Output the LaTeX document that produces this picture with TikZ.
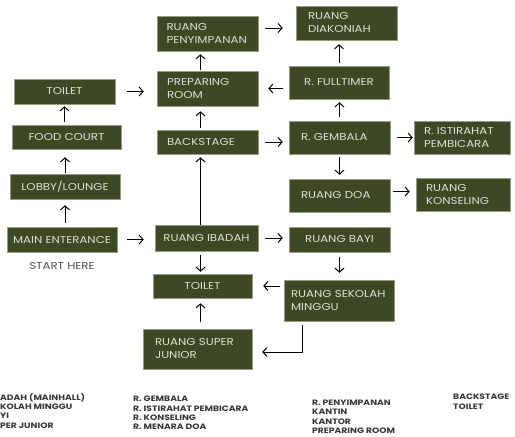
\documentclass[tikz,border=0pt]{standalone}
\usepackage{fontspec}
\setmainfont{Poppins}[FakeStretch=1.18]
\usepackage{xcolor}
\usepackage{tikz}
\usetikzlibrary{arrows.meta,positioning}
\tikzset{>={Straight Barb[length=4pt,width=9pt]}}
\definecolor{roomgreen}{RGB}{61,72,36}
\definecolor{roomedge}{RGB}{150,156,130}
\definecolor{roomtext}{RGB}{222,224,214}
\definecolor{keygray}{RGB}{55,55,60}
\definecolor{startgray}{RGB}{80,80,80}

\begin{document}
\begin{tikzpicture}[x=1pt, y=-1pt,
roomnode/.style={rectangle, draw=roomedge, line width=0.5pt, fill=roomgreen, text=roomtext, font=\fontsize{10}{13}\selectfont, inner sep=0pt, minimum height=25pt},
leftnode/.style={roomnode, align=left, inner xsep=12pt},
flow/.style={->, line width=1pt},
keynode/.style={align=left, anchor=north west, inner sep=0pt, text=keygray, font=\fontsize{7.8}{9.3}\selectfont\bfseries},
]
\useasboundingbox (0,0) rectangle (515,437);
\coordinate (spine) at (200.5,0);

%Nodes
\node[roomnode, minimum width=101pt] (toiletA) at (64.5,91.5) {TOILET};
\node[roomnode, minimum width=109pt, minimum height=24pt] (food) at (66.5,137) {FOOD COURT};
\node[roomnode, minimum width=110pt] (lobby) at (65,186.5) {LOBBY/LOUNGE};
\node[roomnode, minimum width=110pt] (main) at (62,239.5) {MAIN ENTERANCE};
\node[text=startgray, font=\fontsize{10}{12}\selectfont, below=7pt of main] (start) {START HERE};

\node[leftnode, inner xsep=9.5pt, text width=82pt, minimum height=35pt] (penyimpanan) at (207.5,33.5) {RUANG\\PENYIMPANAN};
\node[leftnode, inner xsep=10pt, text width=81pt, minimum height=35pt] (preparing) at (207.5,88.5) {PREPARING\\ROOM};
\node[leftnode, inner xsep=10pt, text width=81pt, minimum height=24pt] (backstage) at (207.5,142) {BACKSTAGE};
\node[roomnode, minimum width=103pt, minimum height=26pt] (ibadah) at (206.5,238) {RUANG IBADAH};
\node[roomnode, minimum width=99pt, minimum height=24pt] (toiletB) at (202.5,286) {TOILET};
\node[leftnode, text width=85pt, minimum height=40pt] (superjunior) at (197.5,349) {RUANG SUPER\\JUNIOR};

\node[leftnode, text width=77pt, minimum height=34pt] (diakoniah) at (346.5,23) {RUANG\\DIAKONIAH};
\node[roomnode, minimum width=100pt, minimum height=33pt] (fulltimer) at (339,82.5) {R. FULLTIMER};
\node[leftnode, text width=77pt, minimum height=33pt] (gembala) at (339.5,137.5) {R. GEMBALA};
\node[leftnode, inner xsep=10pt, text width=76pt, minimum height=33pt] (istirahat) at (462,137.5) {R. ISTIRAHAT\\PEMBICARA};
\node[leftnode, text width=77pt, minimum height=33pt] (doa) at (339.5,195.5) {RUANG DOA};
\node[leftnode, inner xsep=10pt, text width=74pt, minimum height=33pt] (konseling) at (463,194.5) {RUANG\\KONSELING};
\node[roomnode, minimum width=101pt] (bayi) at (339.5,239.5) {RUANG BAYI};
\node[leftnode, inner xsep=7pt, text width=96pt, minimum height=41pt] (sekolah) at (339,300.5) {RUANG SEKOLAH\\MINGGU};

%Key
\node[keynode] (keyA) at (0,393) {ADAH (MAINHALL)\\KOLAH MINGGU\\YI\\PER JUNIOR};
\node[keynode] (keyB) at (133,396) {R. GEMBALA\\R. ISTIRAHAT PEMBICARA\\R. KONSELING\\R. MENARA DOA};
\node[keynode] (keyC) at (312,400) {R. PENYIMPANAN\\KANTIN\\KANTOR\\PREPARING ROOM};
\node[keynode] (keyD) at (453,394) {BACKSTAGE\\TOILET};

%Arrows
\draw[flow, shorten <=4pt, shorten >=6pt] (lobby |- main.north) -- (lobby.south);
\draw[flow, shorten <=1pt, shorten >=8pt] (lobby.north) -- (lobby.north |- food.south);
\draw[flow, shorten <=3pt, shorten >=2pt] (toiletA |- food.north) -- (toiletA.south);
\draw[flow, shorten <=12pt, shorten >=13pt] (toiletA.east) -- (toiletA.east -| preparing.west);
\draw[flow, shorten <=10pt, shorten >=11pt] (main.east) -- (main.east -| ibadah.west);

\draw[flow, shorten >=3pt] (spine |- ibadah.north) -- (spine |- backstage.south);
\draw[flow, shorten <=2pt, shorten >=5pt] (spine |- backstage.north) -- (spine |- preparing.south);
\draw[flow, shorten <=1pt, shorten >=3pt] (spine |- preparing.north) -- (spine |- penyimpanan.south);
\draw[flow, shorten <=4pt, shorten >=2pt] (spine |- ibadah.south) -- (spine |- toiletB.north);
\draw[flow, shorten <=7pt, shorten >=5pt] (spine |- superjunior.north) -- (spine |- toiletB.south);

\draw[flow, shorten <=7pt, shorten >=13pt] ([yshift=5.5pt]penyimpanan.east) -- ([yshift=5.5pt]penyimpanan.east -| diakoniah.west);
\draw[flow, shorten <=6pt, shorten >=10pt] (fulltimer.west |- preparing) -- (preparing.east);
\draw[flow, shorten <=7pt, shorten >=6pt] (backstage.east) -- (backstage.east -| gembala.west);
\draw[flow, shorten <=7pt, shorten >=6pt] (ibadah.east) -- (ibadah.east -| bayi.west);

\draw[flow, shorten <=3pt, shorten >=4pt] (fulltimer.north) -- (fulltimer.north |- diakoniah.south);
\draw[flow, shorten <=4pt, shorten >=3pt] (gembala.north) -- (gembala.north |- fulltimer.south);
\draw[flow, shorten <=3pt, shorten >=4pt] (gembala.south) -- (gembala.south |- doa.north);
\draw[flow, shorten <=5pt, shorten >=7pt] (bayi.south) -- (bayi.south |- sekolah.north);

\draw[flow, shorten <=7pt, shorten >=1pt] (gembala.east) -- (gembala.east -| istirahat.west);
\draw[flow, shorten <=3pt, shorten >=6pt] ([yshift=4pt]doa.east) -- ([yshift=4pt]doa.east -| konseling.west);
\draw[flow, shorten <=4pt, shorten >=11pt] (sekolah.west |- toiletB) -- (toiletB.east);
\draw[flow, shorten <=4pt, shorten >=10pt] ([xshift=-37pt]sekolah.south) |- ([yshift=-3pt]superjunior.east);
\end{tikzpicture}
\end{document}
